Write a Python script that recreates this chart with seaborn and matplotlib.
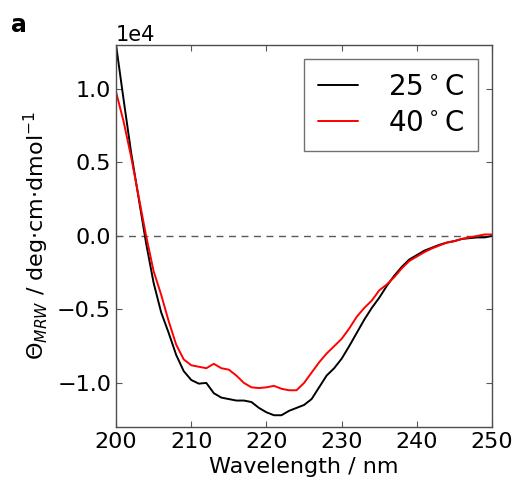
import numpy as np
import pandas as pd
import seaborn as sns
import matplotlib
matplotlib.use("Agg")
import matplotlib.pyplot as plt

# Data (in units of 1e4 deg cm2 dmol-1)
wavelength = list(range(200, 251))
theta_25 = [1.30, 0.93, 0.57, 0.26, -0.05, -0.32, -0.52, -0.66, -0.81, -0.92,
            -0.98, -1.005, -1.00, -1.07, -1.10, -1.11, -1.12, -1.12, -1.13, -1.17,
            -1.20, -1.22, -1.22, -1.19, -1.17, -1.15, -1.11, -1.03, -0.95, -0.90,
            -0.835, -0.75, -0.66, -0.57, -0.49, -0.42, -0.34, -0.27, -0.21, -0.16,
            -0.13, -0.10, -0.08, -0.06, -0.045, -0.035, -0.02, -0.015, -0.01, -0.01,
            0.00]
theta_40 = [0.98, 0.78, 0.54, 0.27, 0.00, -0.24, -0.40, -0.58, -0.74, -0.84,
            -0.88, -0.89, -0.90, -0.87, -0.90, -0.91, -0.95, -1.00, -1.03, -1.035,
            -1.03, -1.02, -1.04, -1.05, -1.05, -1.00, -0.93, -0.86, -0.80, -0.75,
            -0.70, -0.63, -0.55, -0.49, -0.44, -0.37, -0.33, -0.28, -0.22, -0.17,
            -0.14, -0.11, -0.085, -0.065, -0.045, -0.035, -0.02, -0.01, 0.00, 0.01,
            0.01]
labels = [r"25$^\circ$C", r"40$^\circ$C"]
colors = ["black", "red"]

df = pd.DataFrame({
    "Wavelength": wavelength * 2,
    "Theta": np.array(theta_25 + theta_40) * 1e4,
    "Temp": [labels[0]] * len(wavelength) + [labels[1]] * len(wavelength),
})

sns.set_theme(style="white")
plt.rcParams["font.family"] = ["DejaVu Sans"]
plt.rcParams["mathtext.fontset"] = "dejavusans"
plt.rcParams["xtick.direction"] = "in"
plt.rcParams["ytick.direction"] = "in"
plt.rcParams["text.color"] = "black"
plt.rcParams["axes.labelcolor"] = "black"
plt.rcParams["xtick.color"] = "black"
plt.rcParams["ytick.color"] = "black"

fig = plt.figure(figsize=(5.18, 4.88), dpi=100)
ax = fig.add_axes([0.224, 0.125, 0.726, 0.783])

ax.axhline(0, color="0.35", lw=1.0, ls="--", dashes=(5, 4), zorder=1)
sns.lineplot(data=df, x="Wavelength", y="Theta", hue="Temp",
             palette=dict(zip(labels, colors)), lw=1.4, ax=ax)

ax.set_xlim(200, 250)
ax.set_ylim(-1.3e4, 1.3e4)
ax.set_xticks([200, 210, 220, 230, 240, 250])
ax.set_yticks([-1.0e4, -0.5e4, 0, 0.5e4, 1.0e4])
ax.ticklabel_format(axis="y", style="sci", scilimits=(0, 0))
ax.yaxis.get_offset_text().set_fontsize(15)
ax.tick_params(labelsize=16, length=4, width=0.8, color="0.35",
               labelcolor="black", top=True, right=True, bottom=True, left=True)
for s in ax.spines.values():
    s.set_color("0.3")
    s.set_linewidth(1.0)

ax.set_xlabel("Wavelength / nm", fontsize=16)
ax.set_ylabel(r"$\Theta_{MRW}$ / deg$\cdot$cm$\cdot$dmol$^{-1}$", fontsize=16)

leg = ax.legend(loc="upper right", fontsize=20, frameon=True, fancybox=False,
                handlelength=1.45, handletextpad=1.1, borderaxespad=0.5,
                borderpad=0.5, labelspacing=0.3)
leg.get_frame().set_edgecolor("0.3")
leg.get_frame().set_linewidth(1.0)
for h in leg.get_lines():
    h.set_linewidth(1.4)

fig.text(0.022, 0.935, "a", fontsize=17, fontweight="bold")

fig.savefig("out.png", dpi=100)
